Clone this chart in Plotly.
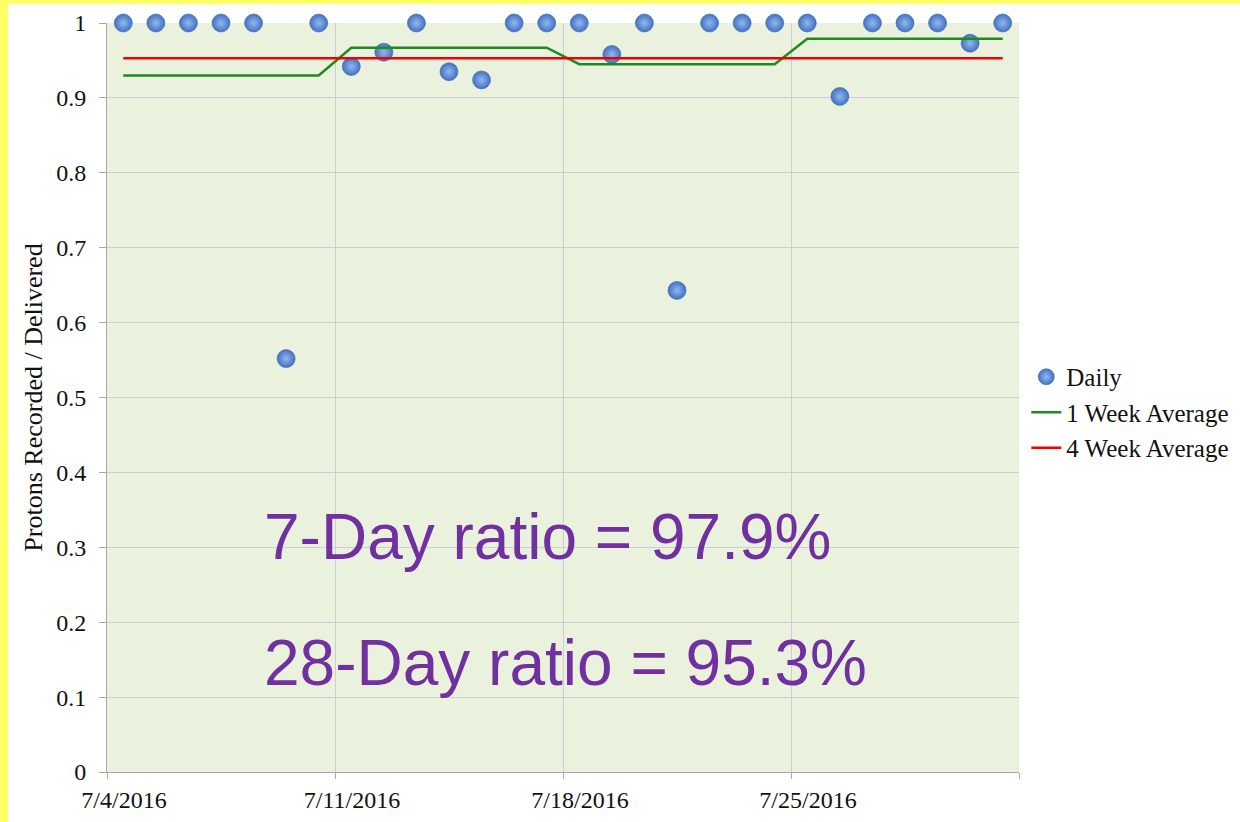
import plotly.graph_objects as go
import pandas as pd

# ---- data ----
dates = pd.date_range("2016-07-04", "2016-07-31", freq="D")
daily = [1, 1, 1, 1, 1, 0.552, 1,
         0.942, 0.961, 1, 0.935, 0.924, 1, 1,
         1, 0.958, 1, 0.643, 1, 1, 1,
         1, 0.902, 1, 1, 1, 0.973, 1]
week_avg = [0.930] * 7 + [0.967] * 7 + [0.945] * 7 + [0.979] * 7
month_avg = [0.953] * 28
tick_dates = ["2016-07-04", "2016-07-11", "2016-07-18", "2016-07-25", "2016-08-01"]
tick_text = ["7/4/2016", "7/11/2016", "7/18/2016", "7/25/2016", ""]
y_ticks = [0, 0.1, 0.2, 0.3, 0.4, 0.5, 0.6, 0.7, 0.8, 0.9, 1]
y_tick_text = ["0", "0.1", "0.2", "0.3", "0.4", "0.5", "0.6", "0.7", "0.8", "0.9", "1"]
ratio_labels = ["7-Day ratio = 97.9%", "28-Day ratio = 95.3%"]
ratio_y = [0.314, 0.146]

x_mid = dates + pd.Timedelta(hours=12)

serif = "Liberation Serif, Times New Roman, serif"
grid = "#C9CED8"

fig = go.Figure()
fig.add_trace(go.Scatter(
    x=x_mid, y=daily, mode="markers", name="Daily", cliponaxis=False,
    marker=dict(size=18, color="#4272C2",
                gradient=dict(type="radial", color="#92B8F0"),
                line=dict(width=0.6, color="#3A66A8")),
))
fig.add_trace(go.Scatter(
    x=x_mid, y=week_avg, mode="lines", name="1 Week Average",
    line=dict(color="#1F8A1F", width=2.5),
))
fig.add_trace(go.Scatter(
    x=x_mid, y=month_avg, mode="lines", name="4 Week Average",
    line=dict(color="#F20000", width=2.5),
))

for txt, yy in zip(ratio_labels, ratio_y):
    fig.add_annotation(
        text=txt, xref="paper", yref="y", x=0.17, y=yy,
        xanchor="left", yanchor="middle", showarrow=False,
        font=dict(family="Liberation Sans, Arial, sans-serif", size=64, color="#7030A0"),
    )

# yellow frame strips (left and top)
fig.add_shape(type="rect", xref="paper", yref="paper",
              x0=-0.125, x1=-0.1085, y0=-0.1, y1=1.04,
              fillcolor="#FFFF66", line_width=0, layer="above")
fig.add_shape(type="rect", xref="paper", yref="paper",
              x0=-0.125, x1=1.25, y0=1.0254, y1=1.04,
              fillcolor="#FFFF66", line_width=0, layer="above")

fig.update_layout(
    width=1240, height=822,
    margin=dict(l=107, r=221, t=23, b=50, autoexpand=False),
    paper_bgcolor="white",
    plot_bgcolor="#EAF1DD",
    font=dict(family=serif, size=23, color="#111111"),
    showlegend=True,
    legend=dict(x=1.008, y=0.48, xanchor="left", yanchor="middle",
                font=dict(family=serif, size=25, color="#111111"),
                bgcolor="rgba(0,0,0,0)", itemwidth=30, tracegroupgap=0),
    xaxis=dict(
        type="date", range=["2016-07-04", "2016-08-01"],
        tickvals=tick_dates, ticktext=tick_text,
        showgrid=True, gridcolor=grid, gridwidth=1,
        showline=True, linecolor="#A8A8A8", linewidth=1,
        ticks="outside", ticklen=6, tickcolor="#A8A8A8",
        ticklabelshift=17,
        tickfont=dict(family=serif, size=24, color="#111111"),
        zeroline=False,
    ),
    yaxis=dict(
        range=[0, 1], tickvals=y_ticks, ticktext=y_tick_text,
        showgrid=True, gridcolor=grid, gridwidth=1,
        showline=True, linecolor="#A8A8A8", linewidth=1,
        ticks="outside", ticklen=7, tickcolor="#A8A8A8",
        ticklabelstandoff=8,
        tickfont=dict(family=serif, size=24, color="#111111"),
        title=dict(text="Protons Recorded / Delivered", standoff=6,
                   font=dict(family=serif, size=26, color="#111111")),
        zeroline=False,
    ),
)

fig.write_html("out.html", config={"displayModeBar": False},
               post_script="document.body.style.margin='0';")
